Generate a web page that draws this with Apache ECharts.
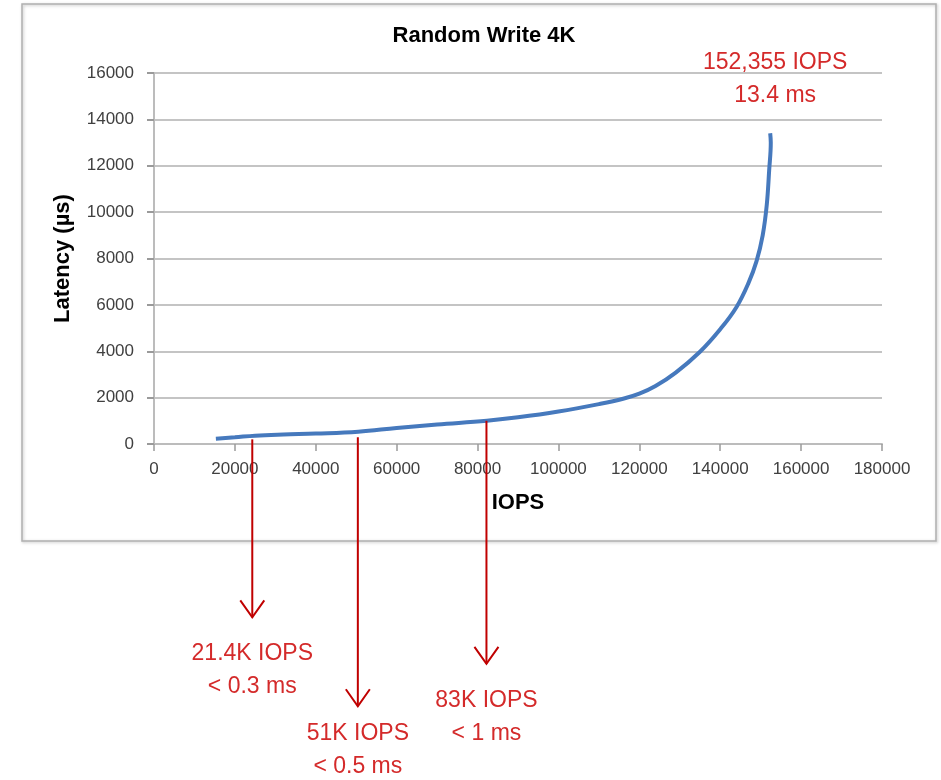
<!DOCTYPE html>
<html>
<head>
<meta charset="utf-8">
<script src="https://cdn.jsdelivr.net/npm/echarts@6/dist/echarts.min.js"></script>
<style>
html,body{margin:0;padding:0;background:#fff;}
#chart{width:941px;height:780px;}
</style>
</head>
<body>
<div id="chart"></div>
<script>
// ---- data ----
const iops = [15300, 20000, 25000, 32000, 40000, 50500, 60000, 70000, 82300, 90000, 100000, 110000, 116000, 120000, 124000, 129000, 135000, 140000, 144000, 147000, 149000, 150500, 151500, 152100, 152500, 152355];
const latency = [230, 290, 360, 410, 450, 530, 690, 840, 1005, 1150, 1400, 1720, 1950, 2170, 2500, 3080, 3980, 4950, 5900, 6950, 7900, 9000, 10300, 11800, 13000, 13400];
const xTicks = [0, 20000, 40000, 60000, 80000, 100000, 120000, 140000, 160000, 180000];
const yTicks = [0, 2000, 4000, 6000, 8000, 10000, 12000, 14000, 16000];

const annotIops = [24300, 50400, 82200];
const annotLatency = [200, 290, 1000];
const annotLine1 = ['21.4K IOPS', '51K IOPS', '83K IOPS'];
const annotLine2 = ['< 0.3 ms', '< 0.5 ms', '< 1 ms'];

const peakIops = 152355;
const peakLatency = 13400;
const peakLine1 = '152,355 IOPS';
const peakLine2 = '13.4 ms';

// ---- styles ----
const arrowStyle = { length: [178, 269, 243], textGap: [20, 11, 20] };
const RED_LINE = '#c00000';
const RED_TEXT = '#d42a2a';
const FONT = '"Liberation Sans", Arial, sans-serif';

const chart = echarts.init(document.getElementById('chart'));

const option = {
  backgroundColor: '#ffffff',
  animation: false,
  title: {
    text: 'Random Write 4K',
    left: 479,
    top: 20,
    textAlign: 'center',
    textStyle: { fontFamily: FONT, fontSize: 22, fontWeight: 'bold', color: '#000' }
  },
  graphic: [{
    type: 'rect',
    shape: { x: 22, y: 4, width: 914, height: 537 },
    style: { fill: 'none', stroke: '#b0b0b0', lineWidth: 1.5, shadowColor: 'rgba(0,0,0,0.25)', shadowBlur: 3, shadowOffsetX: 1, shadowOffsetY: 1 },
    z: -1,
    silent: true
  }],
  grid: { left: 154, right: 59, top: 73, bottom: 336 },
  xAxis: {
    type: 'value',
    min: xTicks[0],
    max: xTicks[xTicks.length - 1],
    interval: xTicks[1] - xTicks[0],
    name: 'IOPS',
    nameLocation: 'middle',
    nameGap: 48,
    nameTextStyle: { fontFamily: FONT, fontSize: 22, fontWeight: 'bold', color: '#000' },
    axisLine: { show: true, lineStyle: { color: '#bcbcbc', width: 2 } },
    axisTick: { show: true, length: 7, lineStyle: { color: '#9a9a9a', width: 1.5 } },
    axisLabel: { margin: 17, fontFamily: FONT, fontSize: 17, color: '#404040', formatter: v => String(v) },
    splitLine: { show: false }
  },
  yAxis: {
    type: 'value',
    min: yTicks[0],
    max: yTicks[yTicks.length - 1],
    interval: yTicks[1] - yTicks[0],
    name: 'Latency (µs)',
    nameLocation: 'middle',
    nameGap: 80,
    nameTextStyle: { fontFamily: FONT, fontSize: 22, fontWeight: 'bold', color: '#000' },
    axisLine: { show: true, lineStyle: { color: '#bcbcbc', width: 2 } },
    axisTick: { show: true, length: 7, lineStyle: { color: '#9a9a9a', width: 2 } },
    axisLabel: { margin: 20, fontFamily: FONT, fontSize: 17, color: '#404040', formatter: v => String(v) },
    splitLine: { show: true, lineStyle: { color: '#c4c4c4', width: 2 } }
  },
  series: [
    {
      type: 'line',
      data: iops.map((v, i) => [v, latency[i]]),
      smooth: 0.4,
      showSymbol: false,
      lineStyle: { color: '#4679bd', width: 4 },
      z: 3
    },
    {
      type: 'custom',
      clip: false,
      z: 4,
      data: annotIops.map((v, i) => [v, annotLatency[i]]),
      renderItem: function (params, api) {
        const i = params.dataIndex;
        const p = api.coord([api.value(0), api.value(1)]);
        const tipY = p[1] + arrowStyle.length[i];
        return {
          type: 'group',
          children: [
            { type: 'line', shape: { x1: p[0], y1: p[1], x2: p[0], y2: tipY }, style: { stroke: RED_LINE, lineWidth: 2 } },
            { type: 'polyline', shape: { points: [[p[0] - 12, tipY - 17], [p[0], tipY], [p[0] + 12, tipY - 17]] }, style: { stroke: RED_LINE, lineWidth: 2, fill: null } },
            { type: 'text', style: { text: annotLine1[i] + '\n' + annotLine2[i], x: p[0], y: tipY + arrowStyle.textGap[i], align: 'center', verticalAlign: 'top', font: '23px ' + FONT, lineHeight: 33, fill: RED_TEXT } }
          ]
        };
      }
    },
    {
      type: 'custom',
      clip: false,
      z: 4,
      data: [[peakIops, peakLatency]],
      renderItem: function (params, api) {
        const p = api.coord([api.value(0), api.value(1)]);
        return {
          type: 'text',
          style: { text: peakLine1 + '\n' + peakLine2, x: p[0] + 5, y: p[1] - 21, align: 'center', verticalAlign: 'bottom', font: '23px ' + FONT, lineHeight: 33, fill: RED_TEXT }
        };
      }
    }
  ]
};
chart.setOption(option);
</script>
</body>
</html>
